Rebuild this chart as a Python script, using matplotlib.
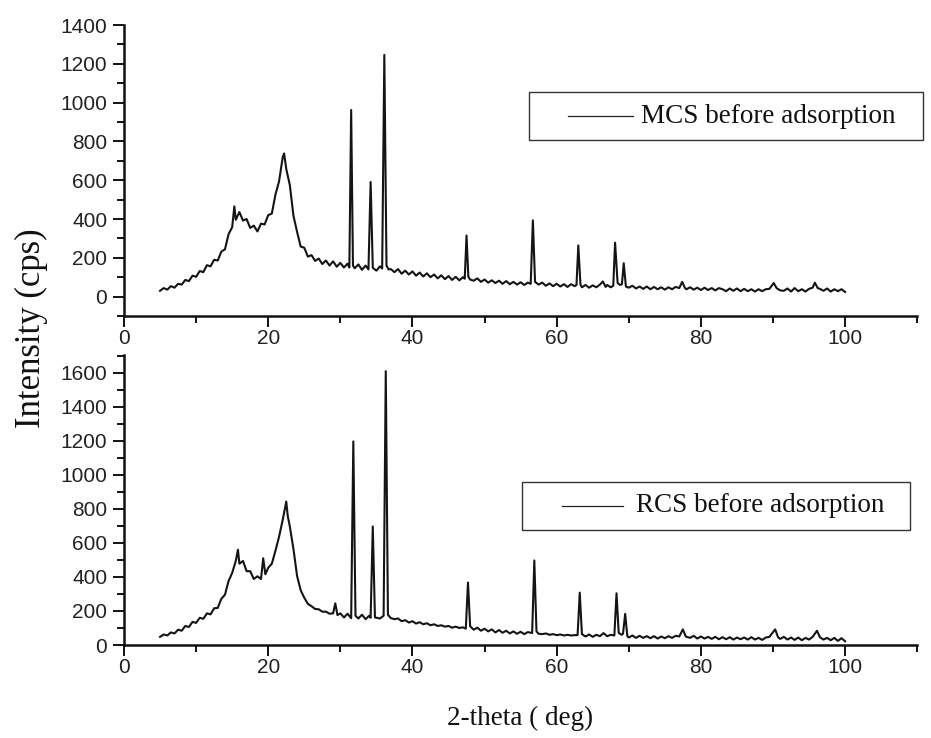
import matplotlib
matplotlib.use("Agg")
import matplotlib.pyplot as plt
from matplotlib.patches import Rectangle
from matplotlib.ticker import MultipleLocator

# ---------------- data (2-theta in deg, intensity in cps) ----------------
theta_mcs = [
    5.0, 5.5, 6.0, 6.5, 7.0, 7.5, 8.0, 8.5, 9.0, 9.5, 10.0, 10.5, 11.0, 11.5, 12.0, 12.5,
    13.0, 13.5, 14.0, 14.5, 15.0, 15.3, 15.5, 16.0, 16.5, 17.0, 17.5, 18.0, 18.5, 19.0,
    19.5, 20.0, 20.5, 21.0, 21.5, 22.0, 22.2, 22.5, 23.0, 23.5, 24.0, 24.5, 25.0, 25.5,
    26.0, 26.5, 27.0, 27.5, 28.0, 28.5, 29.0, 29.5, 30.0, 30.5, 31.0, 31.25, 31.5, 31.75,
    32.0, 32.5, 33.0, 33.5, 33.9, 34.2, 34.5, 35.0, 35.5, 35.8, 36.1, 36.4, 36.7, 37.0,
    37.5, 38.0, 38.5, 39.0, 39.5, 40.0, 40.5, 41.0, 41.5, 42.0, 42.5, 43.0, 43.5, 44.0,
    44.5, 45.0, 45.5, 46.0, 46.5, 47.0, 47.25, 47.5, 47.75, 48.0, 48.5, 49.0, 49.5, 50.0,
    50.5, 51.0, 51.5, 52.0, 52.5, 53.0, 53.5, 54.0, 54.5, 55.0, 55.5, 56.0, 56.4, 56.7,
    57.0, 57.5, 58.0, 58.5, 59.0, 59.5, 60.0, 60.5, 61.0, 61.5, 62.0, 62.5, 62.75, 63.0,
    63.3, 63.5, 64.0, 64.5, 65.0, 65.5, 66.0, 66.4, 66.8, 67.0, 67.5, 67.85, 68.1, 68.45,
    68.8, 69.05, 69.3, 69.6, 70.0, 70.5, 71.0, 71.5, 72.0, 72.5, 73.0, 73.5, 74.0, 74.5,
    75.0, 75.5, 76.0, 76.5, 77.0, 77.4, 77.8, 78.0, 78.5, 79.0, 79.5, 80.0, 80.5, 81.0,
    81.5, 82.0, 82.5, 83.0, 83.5, 84.0, 84.5, 85.0, 85.5, 86.0, 86.5, 87.0, 87.5, 88.0,
    88.5, 89.0, 89.5, 90.1, 90.5, 91.0, 91.5, 92.0, 92.5, 93.0, 93.5, 94.0, 94.5, 95.0,
    95.5, 95.8, 96.2, 96.5, 97.0, 97.5, 98.0, 98.5, 99.0, 99.5, 100.0,
]
intensity_mcs = [
    30, 44, 36, 54, 46, 66, 62, 86, 80, 108, 102, 132, 126, 162, 156, 190,
    186, 232, 244, 322, 358, 465, 396, 436, 392, 400, 354, 366, 336, 376,
    372, 420, 428, 526, 594, 716, 738, 658, 574, 416, 334, 258, 252, 206,
    214, 184, 196, 168, 186, 160, 182, 154, 174, 150, 170, 150, 962, 160,
    146, 166, 138, 160, 140, 591, 148, 134, 156, 145, 1246, 160, 140, 142,
    126, 142, 118, 134, 114, 130, 108, 124, 104, 120, 100, 114, 94, 110,
    90, 106, 86, 102, 84, 100, 92, 315, 102, 88, 82, 94, 76, 88,
    72, 84, 70, 82, 66, 80, 64, 76, 62, 74, 60, 72, 66, 393,
    76, 62, 72, 56, 68, 54, 66, 52, 64, 50, 64, 54, 60, 264,
    62, 48, 60, 46, 58, 48, 62, 78, 50, 60, 48, 56, 278, 70,
    60, 64, 172, 52, 46, 56, 42, 52, 40, 52, 38, 50, 38, 48,
    36, 48, 38, 50, 44, 76, 44, 38, 48, 36, 46, 34, 46, 34,
    44, 32, 44, 38, 28, 42, 30, 42, 28, 40, 28, 38, 26, 38,
    28, 38, 40, 70, 44, 32, 30, 42, 26, 44, 28, 38, 26, 40,
    46, 72, 44, 40, 30, 42, 26, 38, 28, 38, 24,
]

theta_rcs = [
    5.0, 5.5, 6.0, 6.5, 7.0, 7.5, 8.0, 8.5, 9.0, 9.5, 10.0, 10.5, 11.0, 11.5, 12.0, 12.5,
    13.0, 13.5, 14.0, 14.5, 15.0, 15.5, 15.8, 16.0, 16.5, 17.0, 17.5, 18.0, 18.5, 19.0,
    19.3, 19.6, 20.0, 20.5, 21.0, 21.5, 22.0, 22.5, 22.7, 23.0, 23.5, 24.0, 24.5, 25.0,
    25.5, 26.0, 26.5, 27.0, 27.5, 28.0, 28.5, 29.0, 29.3, 29.6, 30.0, 30.5, 31.0, 31.5,
    31.8, 32.1, 32.5, 33.0, 33.5, 34.0, 34.2, 34.5, 34.8, 35.5, 36.0, 36.3, 36.6, 37.0,
    37.5, 38.0, 38.5, 39.0, 39.5, 40.0, 40.5, 41.0, 41.5, 42.0, 42.5, 43.0, 43.5, 44.0,
    44.5, 45.0, 45.5, 46.0, 46.5, 47.0, 47.4, 47.7, 48.0, 48.5, 49.0, 49.5, 50.0, 50.5,
    51.0, 51.5, 52.0, 52.5, 53.0, 53.5, 54.0, 54.5, 55.0, 55.5, 56.0, 56.6, 56.9, 57.2,
    57.5, 58.0, 58.5, 59.0, 59.5, 60.0, 60.5, 61.0, 61.5, 62.0, 62.5, 62.9, 63.2, 63.5,
    64.0, 64.5, 65.0, 65.5, 66.0, 66.5, 67.0, 67.5, 68.0, 68.3, 68.6, 69.0, 69.2, 69.5,
    69.8, 70.0, 70.5, 71.0, 71.5, 72.0, 72.5, 73.0, 73.5, 74.0, 74.5, 75.0, 75.5, 76.0,
    76.5, 77.0, 77.5, 77.9, 78.5, 79.0, 79.5, 80.0, 80.5, 81.0, 81.5, 82.0, 82.5, 83.0,
    83.5, 84.0, 84.5, 85.0, 85.5, 86.0, 86.5, 87.0, 87.5, 88.0, 88.5, 89.0, 89.5, 90.3,
    90.7, 91.0, 91.5, 92.0, 92.5, 93.0, 93.5, 94.0, 94.5, 95.0, 95.5, 96.1, 96.5, 97.0,
    97.5, 98.0, 98.5, 99.0, 99.5, 100.0,
]
intensity_rcs = [
    48, 62, 56, 74, 68, 90, 84, 112, 106, 136, 130, 160, 154, 186, 180, 216,
    218, 272, 296, 376, 424, 494, 560, 478, 494, 434, 434, 388, 404, 388,
    510, 416, 454, 478, 554, 636, 734, 843, 760, 696, 564, 406, 322, 278,
    242, 228, 212, 210, 196, 196, 184, 186, 245, 176, 186, 162, 184, 158,
    1197, 172, 156, 178, 152, 172, 160, 697, 162, 156, 172, 1610, 178, 158,
    152, 156, 140, 146, 132, 140, 126, 134, 122, 128, 116, 122, 112, 116,
    108, 112, 102, 108, 100, 104, 96, 367, 110, 90, 102, 84, 96, 80,
    92, 74, 88, 72, 84, 68, 80, 66, 78, 64, 76, 70, 497, 80,
    66, 64, 68, 60, 64, 58, 62, 56, 60, 56, 58, 58, 308, 64,
    50, 62, 48, 60, 52, 70, 52, 60, 56, 304, 72, 60, 66, 183,
    52, 44, 56, 42, 54, 42, 52, 40, 52, 38, 50, 40, 52, 42,
    54, 50, 92, 50, 42, 54, 38, 50, 38, 48, 36, 48, 34, 46,
    34, 46, 32, 44, 34, 44, 32, 46, 32, 42, 30, 44, 48, 92,
    46, 36, 48, 32, 44, 30, 44, 28, 42, 32, 48, 84, 46, 32,
    42, 28, 42, 24, 40, 22,
]

series_labels = ["MCS before adsorption", "RCS before adsorption"]
x_label = "2-theta ( deg)"
y_label = "Intensity (cps)"

# ---------------- figure ----------------
SANS = ["Liberation Sans", "DejaVu Sans"]
SERIF = ["Liberation Serif", "DejaVu Serif"]
plt.rcParams["font.family"] = SANS

fig = plt.figure(figsize=(9.31, 7.38), dpi=100)
ax_top = fig.add_axes([0.1332, 0.5718, 0.852, 0.3943])
ax_bot = fig.add_axes([0.1332, 0.1260, 0.852, 0.3930])

line_color = "#141414"
ax_top.plot(theta_mcs, intensity_mcs, color=line_color, lw=1.5)
ax_bot.plot(theta_rcs, intensity_rcs, color=line_color, lw=1.5)

ax_top.set_ylim(-100, 1400)
ax_bot.set_ylim(0, 1705)

for ax in (ax_top, ax_bot):
    ax.set_xlim(0, 110)
    ax.spines["top"].set_visible(False)
    ax.spines["right"].set_visible(False)
    for s in ("left", "bottom"):
        ax.spines[s].set_linewidth(1.8)
        ax.spines[s].set_color("#111111")
    ax.xaxis.set_major_locator(MultipleLocator(20))
    ax.xaxis.set_minor_locator(MultipleLocator(10))
    ax.yaxis.set_major_locator(MultipleLocator(200))
    ax.yaxis.set_minor_locator(MultipleLocator(100))
    ax.tick_params(which="major", direction="out", length=8, width=1.4,
                   labelsize=15, colors="#111111", pad=4)
    ax.tick_params(axis="x", which="major", pad=1.5)
    ax.tick_params(which="minor", direction="out", length=5, width=1.4,
                   colors="#111111")
    ax.set_xticks([0, 20, 40, 60, 80, 100])
    for lab in ax.get_xticklabels() + ax.get_yticklabels():
        lab.set_color("#222222")

ax_top.set_yticks([0, 200, 400, 600, 800, 1000, 1200, 1400])
ax_bot.set_yticks([0, 200, 400, 600, 800, 1000, 1200, 1400, 1600])


def legend_box(ax, label, box, handle, text_x):
    x0, y0, x1, y1 = box
    ax.add_patch(Rectangle((x0, y0), x1 - x0, y1 - y0, transform=ax.transAxes,
                           fill=False, edgecolor="#333333", lw=1.0, clip_on=False))
    yc = (y0 + y1) / 2
    ax.plot([handle[0], handle[1]], [yc, yc], transform=ax.transAxes,
            color="#222222", lw=0.9, clip_on=False)
    ax.text(text_x, yc, label, transform=ax.transAxes, ha="left", va="center",
            fontsize=19.5, family=SERIF, color="#111111")


legend_box(ax_top, series_labels[0], (0.5107, 0.6048, 1.0076, 0.7698),
           (0.560, 0.642), 0.652)
legend_box(ax_bot, series_labels[1], (0.5019, 0.3966, 0.9912, 0.5621),
           (0.552, 0.629), 0.645)

fig.text(0.034, 1 - 328 / 738, y_label, rotation=90, ha="center", va="center",
         fontsize=25, family=SERIF, color="#111111")
fig.text(0.5585, 1 - 718 / 738, x_label, ha="center", va="center",
         fontsize=19.5, family=SERIF, color="#111111")

fig.savefig("out.png", dpi=100)
